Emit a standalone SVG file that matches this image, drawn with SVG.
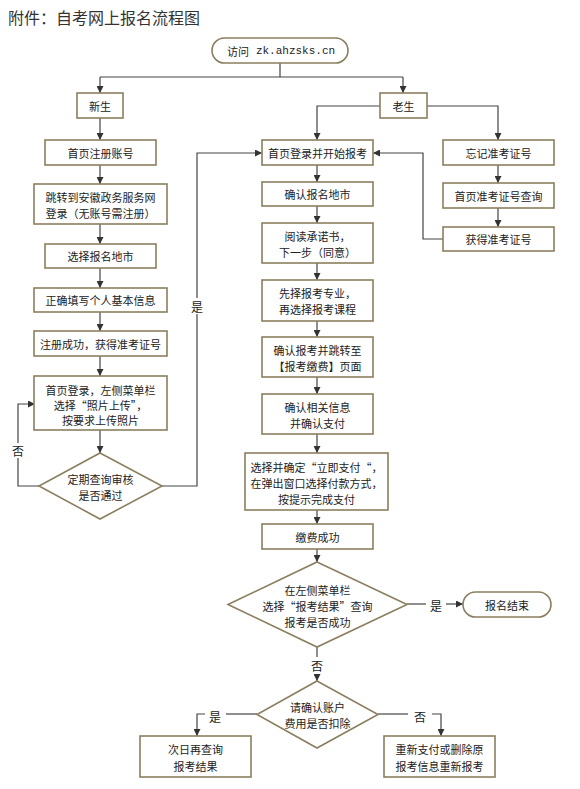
<svg xmlns="http://www.w3.org/2000/svg" width="580" height="789" viewBox="0 0 580 789">
<defs>
<marker id="ah" viewBox="0 0 8 8" refX="8" refY="4" markerWidth="7" markerHeight="7" orient="auto" markerUnits="userSpaceOnUse">
<path d="M0,0 L8,4 L0,8 z" fill="#333"/>
</marker>
<style>
.bx{fill:#fff;stroke:#8a7f5e;stroke-width:1.6}
.t{font-family:"Noto Sans CJK SC","Liberation Sans",sans-serif;font-size:11px;fill:#222;text-anchor:middle;dominant-baseline:central}
.c{fill:none;stroke:#444;stroke-width:1.2}
.ca{fill:none;stroke:#444;stroke-width:1.2;marker-end:url(#ah)}
.lb{font-family:"Noto Sans CJK SC","Liberation Sans",sans-serif;font-size:12px;fill:#222;text-anchor:middle;dominant-baseline:central}
</style>
</defs>
<rect width="580" height="789" fill="#fff"/>
<text x="8" y="17" font-family="'Noto Sans CJK SC','Liberation Sans',sans-serif" font-size="16" fill="#333" dominant-baseline="central">附件：自考网上报名流程图</text>

<g id="connectors">
<path class="c" d="M280,62 V77 M100,77 H403"/>
<path class="ca" d="M100,77 V93"/>
<path class="ca" d="M403,77 V93"/>
<path class="ca" d="M380,106 H317 V140"/>
<path class="ca" d="M427,106 H498 V140"/>
<path class="ca" d="M100,118 V140"/>
<path class="ca" d="M100,165 V184"/>
<path class="ca" d="M100,224 V244"/>
<path class="ca" d="M100,268 V288"/>
<path class="ca" d="M100,312 V331"/>
<path class="ca" d="M100,356 V376"/>
<path class="ca" d="M100,430 V453"/>
<path class="ca" d="M39,486 H18 V404 H35"/>
<path class="ca" d="M162,486 H197 V153 H262"/>
<path class="ca" d="M317,165 V182"/>
<path class="ca" d="M317,206 V223"/>
<path class="ca" d="M317,263 V280"/>
<path class="ca" d="M317,321 V337"/>
<path class="ca" d="M317,377 V394"/>
<path class="ca" d="M317,434 V453"/>
<path class="ca" d="M317,510 V524"/>
<path class="ca" d="M317,549 V562"/>
<path class="ca" d="M498,165 V183"/>
<path class="ca" d="M498,208 V227"/>
<path class="ca" d="M443,239 H423 V153 H373"/>
<path class="c" d="M407,604 H426"/>
<path class="ca" d="M446,604 H463"/>
<path class="c" d="M317,647 V657"/>
<path class="ca" d="M317,674 V681"/>
<path class="c" d="M257,714 H226"/>
<path class="ca" d="M205,714 H197 V736"/>
<path class="c" d="M378,714 H408"/>
<path class="ca" d="M432,714 H441 V736"/>
<rect x="190" y="298" width="14" height="16" fill="#fff"/>
<text class="lb" x="197" y="306">是</text>
<rect x="11" y="443" width="14" height="15" fill="#fff"/>
<text class="lb" x="18" y="450">否</text>
<text class="lb" x="436" y="605">是</text>
<text class="lb" x="317" y="665">否</text>
<text class="lb" x="215" y="716">是</text>
<text class="lb" x="420" y="716">否</text>
</g>

<g id="start"><rect class="bx" x="212" y="38" width="136" height="25" rx="12.5"/><text class="t" x="281" y="51">访问<tspan dx="7" font-family="'Liberation Mono','DejaVu Sans Mono',monospace">zk.ahzsks.cn</tspan></text></g>
<g id="xinsheng"><rect class="bx" x="77" y="93" width="46" height="25"/><text class="t" x="100" y="106">新生</text></g>
<g id="laosheng"><rect class="bx" x="380" y="93" width="47" height="25"/><text class="t" x="403.5" y="106">老生</text></g>

<g id="n1"><rect class="bx" x="45" y="140" width="111" height="25"/><text class="t" x="100.5" y="153">首页注册账号</text></g>
<g id="n2"><rect class="bx" x="34" y="184" width="133" height="40"/><text class="t" x="100.5" y="197">跳转到安徽政务服务网</text><text class="t" x="100.5" y="213">登录（无账号需注册）</text></g>
<g id="n3"><rect class="bx" x="45" y="244" width="111" height="24"/><text class="t" x="100.5" y="256">选择报名地市</text></g>
<g id="n4"><rect class="bx" x="34" y="288" width="133" height="24"/><text class="t" x="100.5" y="300">正确填写个人基本信息</text></g>
<g id="n5"><rect class="bx" x="34" y="331" width="133" height="25"/><text class="t" x="100.5" y="344">注册成功，获得准考证号</text></g>
<g id="n6"><rect class="bx" x="34" y="376" width="133" height="54"/><text class="t" x="100.5" y="390">首页登录，左侧菜单栏</text><text class="t" x="100.5" y="405">选择“照片上传”，</text><text class="t" x="100.5" y="420">按要求上传照片</text></g>
<g id="d1"><polygon class="bx" points="100,453 162,486 100,519 39,486"/><text class="t" x="100.5" y="479">定期查询审核</text><text class="t" x="100.5" y="495">是否通过</text></g>

<g id="m1"><rect class="bx" x="262" y="140" width="111" height="25"/><text class="t" x="317.5" y="153">首页登录并开始报考</text></g>
<g id="m2"><rect class="bx" x="262" y="182" width="111" height="24"/><text class="t" x="317.5" y="194">确认报名地市</text></g>
<g id="m3"><rect class="bx" x="262" y="223" width="111" height="40"/><text class="t" x="317.5" y="236">阅读承诺书，</text><text class="t" x="317.5" y="252">下一步（同意）</text></g>
<g id="m4"><rect class="bx" x="262" y="280" width="111" height="41"/><text class="t" x="317.5" y="293">先择报考专业，</text><text class="t" x="317.5" y="309">再选择报考课程</text></g>
<g id="m5"><rect class="bx" x="262" y="337" width="111" height="40"/><text class="t" x="317.5" y="350">确认报考并跳转至</text><text class="t" x="317.5" y="366">【报考缴费】页面</text></g>
<g id="m6"><rect class="bx" x="262" y="394" width="111" height="40"/><text class="t" x="317.5" y="407">确认相关信息</text><text class="t" x="317.5" y="423">并确认支付</text></g>
<g id="m7"><rect class="bx" x="245" y="453" width="143" height="57"/><text class="t" x="316.5" y="467">选择并确定“立即支付“，</text><text class="t" x="316.5" y="483">在弹出窗口选择付款方式，</text><text class="t" x="316.5" y="499">按提示完成支付</text></g>
<g id="m8"><rect class="bx" x="262" y="524" width="111" height="25"/><text class="t" x="317.5" y="537">缴费成功</text></g>
<g id="d2"><polygon class="bx" points="317,562 407,604.5 317,647 228,604.5"/><text class="t" x="317.5" y="590">在左侧菜单栏</text><text class="t" x="317.5" y="606">选择“报考结果”查询</text><text class="t" x="317.5" y="622">报考是否成功</text></g>
<g id="end"><rect class="bx" x="463" y="592" width="88" height="25" rx="12.5"/><text class="t" x="507" y="605">报名结束</text></g>
<g id="d3"><polygon class="bx" points="317,681 378,714.5 317,748 257,714.5"/><text class="t" x="317.5" y="707">请确认账户</text><text class="t" x="317.5" y="723">费用是否扣除</text></g>
<g id="b1"><rect class="bx" x="140" y="736" width="111" height="41"/><text class="t" x="195.5" y="749">次日再查询</text><text class="t" x="195.5" y="766">报考结果</text></g>
<g id="b2"><rect class="bx" x="384" y="736" width="111" height="41"/><text class="t" x="439.5" y="749">重新支付或删除原</text><text class="t" x="439.5" y="766">报考信息重新报考</text></g>

<g id="r1"><rect class="bx" x="443" y="140" width="111" height="25"/><text class="t" x="498.5" y="153">忘记准考证号</text></g>
<g id="r2"><rect class="bx" x="443" y="183" width="111" height="25"/><text class="t" x="498.5" y="196">首页准考证号查询</text></g>
<g id="r3"><rect class="bx" x="443" y="227" width="111" height="24"/><text class="t" x="498.5" y="239">获得准考证号</text></g>
</svg>
